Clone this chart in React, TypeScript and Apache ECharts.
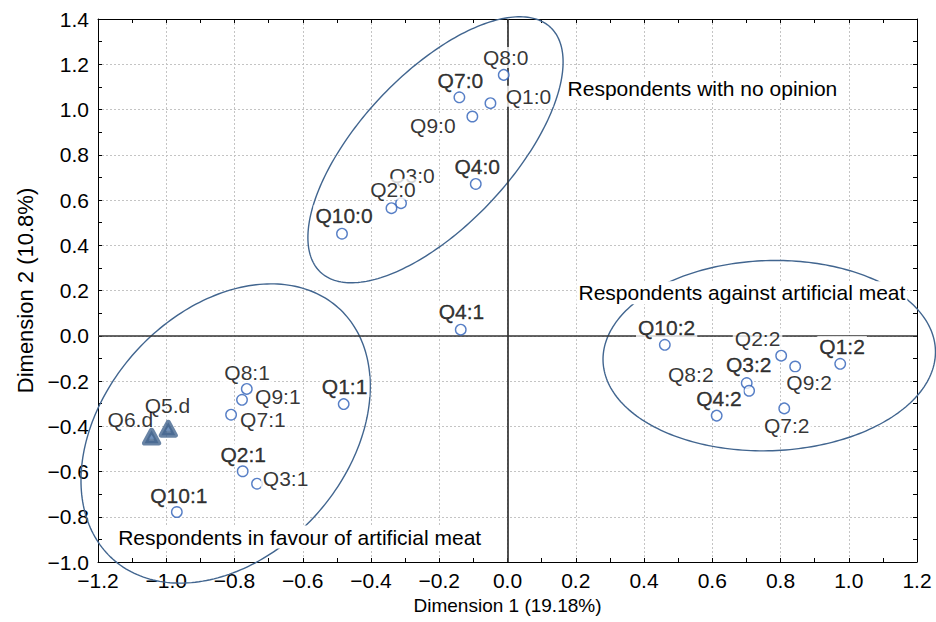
import React, { useEffect, useRef } from 'react';
import * as echarts from 'echarts';

// ---- data ----
const circleLabels = ['Q8:0', 'Q7:0', 'Q1:0', 'Q9:0', 'Q4:0', 'Q3:0', 'Q2:0', 'Q10:0', 'Q4:1', 'Q8:1', 'Q9:1', 'Q7:1', 'Q1:1', 'Q2:1', 'Q3:1', 'Q10:1', 'Q10:2', 'Q2:2', 'Q1:2', 'Q9:2', 'Q3:2', 'Q8:2', 'Q4:2', 'Q7:2'];
const dim1 = [-0.011, -0.141, -0.05, -0.103, -0.093, -0.312, -0.34, -0.485, -0.137, -0.764, -0.778, -0.81, -0.48, -0.776, -0.734, -0.969, 0.461, 0.802, 0.975, 0.843, 0.701, 0.708, 0.613, 0.811];
const dim2 = [1.153, 1.054, 1.028, 0.969, 0.671, 0.586, 0.564, 0.451, 0.027, -0.235, -0.283, -0.349, -0.302, -0.599, -0.654, -0.779, -0.04, -0.088, -0.124, -0.136, -0.209, -0.243, -0.353, -0.321];
const strongLabels = ['Q7:0', 'Q4:0', 'Q10:0', 'Q4:1', 'Q1:1', 'Q2:1', 'Q10:1', 'Q10:2', 'Q3:2', 'Q4:2', 'Q1:2'];

const triLabels = ['Q5.d', 'Q6.d'];
const triDim1 = [-0.994, -1.043];
const triDim2 = [-0.411, -0.446];

// group ellipses: centre and two conjugate semi-axis end points (data units)
const ellipseCx = [-0.211, -0.826, 0.767];
const ellipseCy = [0.822, -0.432, -0.088];
const ellipseAx = [0.126, -0.496, 1.254];
const ellipseAy = [1.363, 0.124, -0.063];
const ellipseBx = [-0.049, -0.56, 0.777];
const ellipseBy = [0.592, -0.79, -0.508];

const noteTexts = ['Respondents with no opinion', 'Respondents against artificial meat', 'Respondents in favour of artificial meat'];
const noteX = [0.176, 0.208, -1.141];
const noteY = [1.093, 0.19, -0.89];

const xMin = -1.2, xMax = 1.2, xStep = 0.2;
const yMin = -1.0, yMax = 1.4, yStep = 0.2;
const xTitle = 'Dimension 1 (19.18%)';
const yTitle = 'Dimension 2 (10.8%)';

// ---- label placement (pixels, relative to marker centre) ----
const circleLabelOffsets = [[2, -17.5], [1, -17], [38, -7], [-39.5, 8.7], [1.4, -17], [11, -28], [1.5, -19], [2, -18], [0.7, -18.3], [0.3, -16.3], [35.8, -3], [31.8, 4.7], [0.9, -17.6], [0.6, -17.2], [28.6, -5.7], [2, -16.5], [1.8, -17.5], [-23.6, -16.8], [1.9, -17.3], [13.9, 16.3], [2, -18.3], [-58.3, -16.5], [2.3, -16.8], [2.5, 17.1]];
const triLabelOffsets = [[-0.8, -23.2], [-21.2, -17.5]];

const FONT = "'Liberation Sans', Arial, sans-serif";

const fmt = (v: number) => {
  const s = Math.abs(v) < 1e-9 ? '0.0' : v.toFixed(1);
  return s.replace('-', '\u2212');
};

export default function App() {
  const ref = useRef<HTMLDivElement>(null);
  useEffect(() => {
    document.body.style.margin = '0';
    if (!ref.current) return;
    const chart = echarts.init(ref.current, null, { renderer: 'svg' });

    const tickCommon = {
      axisTick: { show: true, inside: true, length: 4, lineStyle: { color: '#000', width: 1 } },
      minorTick: { show: true, splitNumber: 2, length: 4, lineStyle: { color: '#000', width: 1 } },
    };
    const grid = { lineStyle: { color: '#c4c4c4', type: [2, 2], width: 1 } };

    const option: any = {
      animation: false,
      grid: { left: 98, right: 19, top: 19, bottom: 60, containLabel: false },
      xAxis: [
        {
          type: 'value', min: xMin, max: xMax, interval: xStep, position: 'bottom',
          name: xTitle, nameLocation: 'middle', nameGap: 34,
          nameTextStyle: { fontFamily: FONT, fontSize: 19, color: '#000' },
          axisLine: { onZero: false, lineStyle: { color: '#000', width: 1 } },
          ...tickCommon,
          axisLabel: { formatter: fmt, fontFamily: FONT, fontSize: 21, color: '#000', margin: 8 },
          splitLine: { show: true, ...grid },
        },
        {
          type: 'value', min: xMin, max: xMax, interval: xStep, position: 'top',
          axisLine: { onZero: false, lineStyle: { color: '#000', width: 1 } },
          ...tickCommon,
          axisLabel: { show: false },
          splitLine: { show: false },
        },
      ],
      yAxis: [
        {
          type: 'value', min: yMin, max: yMax, interval: yStep, position: 'left',
          name: yTitle, nameLocation: 'middle', nameGap: 61,
          nameTextStyle: { fontFamily: FONT, fontSize: 22, color: '#000' },
          axisLine: { onZero: false, lineStyle: { color: '#000', width: 1 } },
          ...tickCommon,
          axisLabel: { formatter: fmt, fontFamily: FONT, fontSize: 21, color: '#000', margin: 9 },
          splitLine: { show: true, ...grid },
        },
        {
          type: 'value', min: yMin, max: yMax, interval: yStep, position: 'right',
          axisLine: { onZero: false, lineStyle: { color: '#000', width: 1 } },
          ...tickCommon,
          axisLabel: { show: false },
          splitLine: { show: false },
        },
      ],
      series: [
        {
          type: 'line', name: 'zero', data: [], z: 1,
          markLine: {
            silent: true, symbol: ['none', 'none'], label: { show: false },
            lineStyle: { color: '#333', width: 1.7, type: 'solid' },
            data: [{ xAxis: 0 }, { yAxis: 0 }],
          },
        },
        {
          type: 'custom', name: 'groups', z: 2, silent: true,
          encode: { x: [0, 2, 4], y: [1, 3, 5] },
          data: ellipseCx.map((c, i) => [c, ellipseCy[i], ellipseAx[i], ellipseAy[i], ellipseBx[i], ellipseBy[i]]),
          renderItem: (params: any, api: any) => {
            const c = api.coord([api.value(0), api.value(1)]);
            const a = api.coord([api.value(2), api.value(3)]);
            const b = api.coord([api.value(4), api.value(5)]);
            const ux = a[0] - c[0], uy = a[1] - c[1], vx = b[0] - c[0], vy = b[1] - c[1];
            const pts: number[][] = [];
            for (let k = 0; k <= 240; k++) {
              const t = (k / 240) * Math.PI * 2;
              pts.push([c[0] + ux * Math.cos(t) + vx * Math.sin(t), c[1] + uy * Math.cos(t) + vy * Math.sin(t)]);
            }
            return { type: 'polyline', shape: { points: pts }, style: { fill: 'none', stroke: '#41658f', lineWidth: 1.4 } };
          },
        },
        {
          type: 'scatter', name: 'categories', z: 5, symbol: 'circle', symbolSize: 10.5,
          itemStyle: { color: '#fff', borderColor: '#2d5fb8', borderWidth: 1.4 },
          label: {
            show: true, position: 'inside', formatter: '{b}', fontFamily: FONT, fontSize: 21,
            color: '#000', backgroundColor: '#fff', padding: [0, 2],
          },
          data: circleLabels.map((n, i) => ({
            name: n, value: [dim1[i], dim2[i]],
            label: strongLabels.includes(n)
              ? { offset: circleLabelOffsets[i], textBorderColor: '#000', textBorderWidth: 0.35 }
              : { offset: circleLabelOffsets[i] },
          })),
        },
        {
          type: 'scatter', name: 'supplementary', z: 6, symbol: 'triangle', symbolSize: [14, 13],
          itemStyle: { color: '#44658f', borderColor: '#44658f', borderWidth: 5, borderJoin: 'round' },
          label: {
            show: true, position: 'inside', formatter: '{b}', fontFamily: FONT, fontSize: 21,
            color: '#000',
          },
          data: triLabels.map((n, i) => ({ name: n, value: [triDim1[i], triDim2[i]], label: { offset: triLabelOffsets[i] } })),
        },
        {
          type: 'scatter', name: 'supplementary-core', z: 7, symbol: 'triangle', symbolSize: [5, 4], silent: true,
          itemStyle: { color: '#7496c4' },
          data: triLabels.map((n, i) => [triDim1[i], triDim2[i]]),
        },
        {
          type: 'custom', name: 'notes', z: 8, silent: true,
          encode: { x: 0, y: 1 },
          data: noteX.map((x, i) => [x, noteY[i]]),
          renderItem: (params: any, api: any) => {
            const p = api.coord([api.value(0), api.value(1)]);
            return {
              type: 'text', x: p[0] - 2, y: p[1],
              style: {
                text: noteTexts[params.dataIndex], fill: '#000', fontFamily: FONT, fontSize: 21,
                align: 'left', verticalAlign: 'middle', backgroundColor: '#fff', padding: [1, 2],
              },
            };
          },
        },
      ],
    };
    chart.setOption(option);
    return () => chart.dispose();
  }, []);
  return <div ref={ref} style={{ width: 936, height: 622 }} />;
}
